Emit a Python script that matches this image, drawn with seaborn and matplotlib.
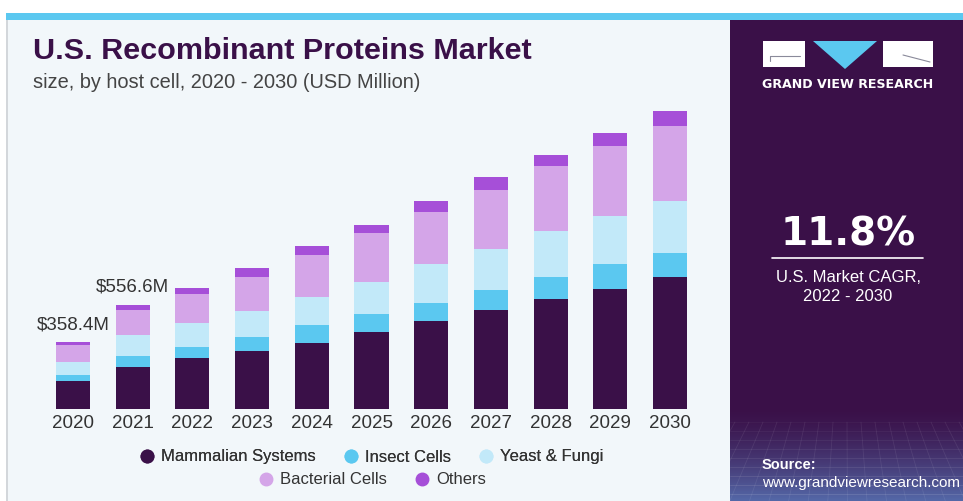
import matplotlib
matplotlib.use("Agg")
import matplotlib.pyplot as plt
import matplotlib.font_manager as fm
from matplotlib.patches import Rectangle, Polygon
from matplotlib.lines import Line2D
import numpy as np
import pandas as pd
import seaborn as sns

# ---------------- data ----------------
years = ['2020', '2021', '2022', '2023', '2024', '2025', '2026', '2027', '2028', '2029', '2030']
mammalian = [147.4, 225.6, 272, 308, 352, 411, 470, 529, 587, 642, 703]
insect = [32, 60, 59, 78, 96, 94, 94, 107, 117, 132, 132]
yeast = [71, 107, 127, 139, 148, 173, 208, 221, 244, 256, 278]
bacterial = [92, 137, 155, 182, 228, 263, 281, 315, 351, 374, 400]
others = [16, 27, 32, 44, 46, 41, 59, 68, 59, 68, 76]
series_names = ['Mammalian Systems', 'Insect Cells', 'Yeast & Fungi', 'Bacterial Cells', 'Others']
series_colors = ['#3a1048', '#5bc8f0', '#c2e9f9', '#d4a5e8', '#a64fd8']
label_years = ['2020', '2021']
label_texts = ['$358.4M', '$556.6M']

title = 'U.S. Recombinant Proteins Market'
subtitle = 'size, by host cell, 2020 - 2030 (USD Million)'
cagr = '11.8%'
cagr_text = 'U.S. Market CAGR,\n2022 - 2030'

# ---------------- fonts ----------------
avail = {f.name for f in fm.fontManager.ttflist}
def pick(*names):
    for n in names:
        if n in avail:
            return n
    return 'DejaVu Sans'
SANS = pick('Liberation Sans', 'Arimo', 'Roboto', 'DejaVu Sans')

sns.set_theme(style='white')
plt.rcParams['font.family'] = [SANS, 'DejaVu Sans']

W, H = 963, 501
fig = plt.figure(figsize=(W / 100, H / 100), dpi=100)
fig.patch.set_facecolor('white')
renderer = fig.canvas.get_renderer()

def fit_width(t, target_px):
    w = t.get_window_extent(renderer=renderer).width
    if w > 0:
        t.set_fontsize(t.get_fontsize() * target_px / w)

# background / decoration axes in pixel coords
bg = fig.add_axes([0, 0, 1, 1], zorder=0)
bg.set_xlim(0, W)
bg.set_ylim(H, 0)
bg.axis('off')

PANEL = '#3a1048'
bg.add_patch(Rectangle((6, 13), W - 6, 7, color='#5bc8f0', lw=0))
bg.add_patch(Rectangle((6, 20), 2, H - 20, color='#d3d7db', lw=0))
bg.add_patch(Rectangle((8, 20), 722, H - 20, color='#f2f7fa', lw=0))
bg.add_patch(Rectangle((730, 20), W - 730, H - 20, color=PANEL, lw=0))

# gradient at bottom of right panel
grad = np.linspace(0, 1, 100)[:, None]
c0 = np.array(matplotlib.colors.to_rgb(PANEL))
c1 = np.array(matplotlib.colors.to_rgb('#5468a8'))
g = grad[..., None] ** 1.4
img = c0[None, None, :] * (1 - g) + c1[None, None, :] * g
img = np.repeat(img, 2, axis=1)
bg.imshow(img, extent=(730, W, H, 408), aspect='auto', zorder=1, interpolation='bilinear')
for yy in np.arange(422, H, 9):
    bg.plot([730, W], [yy, yy], color='white', alpha=0.04 + 0.10 * (yy - 422) / 80, lw=0.6, zorder=2)
for xx in np.arange(735, W, 14):
    bg.plot([xx, xx + (xx - 846) * 0.4], [422, H], color='white', alpha=0.08, lw=0.6, zorder=2)

# logo
bg.add_patch(Rectangle((763, 41), 42, 26, color='white', lw=0, zorder=3))
bg.plot([770, 800], [56, 56], color='#8a8a9a', lw=0.8, zorder=4)
bg.plot([770, 770], [56, 61], color='#8a8a9a', lw=0.8, zorder=4)
bg.add_patch(Polygon([(813, 41), (877, 41), (845, 69)], closed=True, color='#5bc8f0', lw=0, zorder=3))
bg.add_patch(Rectangle((883, 41), 50, 26, color='white', lw=0, zorder=3))
bg.plot([903, 930], [55, 62], color='#8a8a9a', lw=0.8, zorder=4)
gvr = bg.text(848, 84, 'GRAND VIEW RESEARCH', color='white', fontsize=8.8, fontweight='bold',
              family=['DejaVu Sans'], ha='center', va='center', zorder=4)
fit_width(gvr, 172)

bg.text(848, 234, cagr, color='white', fontsize=28, fontweight='bold', family=['DejaVu Sans'],
        ha='center', va='center', zorder=4)
bg.plot([772, 923], [258, 258], color='white', lw=1.2, zorder=4)
bg.text(848, 287, cagr_text, color='white', fontsize=12, ha='center', va='center',
        linespacing=1.35, zorder=4)
bg.text(762, 465, 'Source:', color='white', fontsize=10.5, fontweight='bold', ha='left', va='center', zorder=4)
bg.text(762, 483, 'www.grandviewresearch.com', color='white', fontsize=11, ha='left', va='center', zorder=4)

# titles
tt = bg.text(33, 51, title, color=PANEL, fontsize=22, fontweight='bold', family=[SANS, 'DejaVu Sans'],
             ha='left', va='center', zorder=4)
fit_width(tt, 497)
st = bg.text(33, 82, subtitle, color='#444444', fontsize=13, family=[SANS, 'DejaVu Sans'],
             ha='left', va='center', zorder=4)
fit_width(st, 389)

# ---------------- chart ----------------
SCALE = 5.34  # USD M per pixel
base_px, top_px = 409, 100
left_px, right_px = 43, 700
ax = fig.add_axes([left_px / W, 1 - base_px / H, (right_px - left_px) / W, (base_px - top_px) / H], zorder=2)
ax.patch.set_alpha(0)

df = pd.DataFrame({'year': years,
                   series_names[0]: mammalian, series_names[1]: insect, series_names[2]: yeast,
                   series_names[3]: bacterial, series_names[4]: others})
cum = df[series_names].cumsum(axis=1)
for name, col in reversed(list(zip(series_names, series_colors))):
    sns.barplot(x=df['year'], y=cum[name], color=col, width=0.57, saturation=1,
                edgecolor='none', linewidth=0, ax=ax, order=years)

ax.set_xlim(-0.5, len(years) - 0.5)
ax.set_ylim(0, (base_px - top_px) * SCALE)
ax.set_xlabel('')
ax.set_ylabel('')
ax.set_yticks([])
for s in ax.spines.values():
    s.set_visible(False)
ax.tick_params(axis='x', length=0, pad=4, labelsize=13.5, labelcolor='#333333')

totals = cum[series_names[-1]].tolist()
for yr, txt in zip(label_years, label_texts):
    i = years.index(yr)
    ax.annotate(txt, (i, totals[i]), xytext=(0, 12.5), textcoords='offset points',
                ha='center', va='center', fontsize=13.5, color='#333333')

# legends
handles = [Line2D([], [], marker='o', ls='none', markersize=9, markerfacecolor=c, markeredgecolor=c)
           for c in series_colors]
leg1 = fig.legend(handles[:3], series_names[:3], loc='center', bbox_to_anchor=(371 / W, 1 - 457 / H),
                  ncol=3, frameon=False, fontsize=12, handletextpad=0.35, columnspacing=1.6,
                  handlelength=1.0, labelcolor='#333333')
fig.add_artist(leg1)
leg2 = fig.legend(handles[3:], series_names[3:], loc='center', bbox_to_anchor=(372 / W, 1 - 480 / H),
                  ncol=2, frameon=False, fontsize=12, handletextpad=0.35, columnspacing=1.6,
                  handlelength=1.0, labelcolor='#333333')

fig.savefig('out.png', dpi=100)
